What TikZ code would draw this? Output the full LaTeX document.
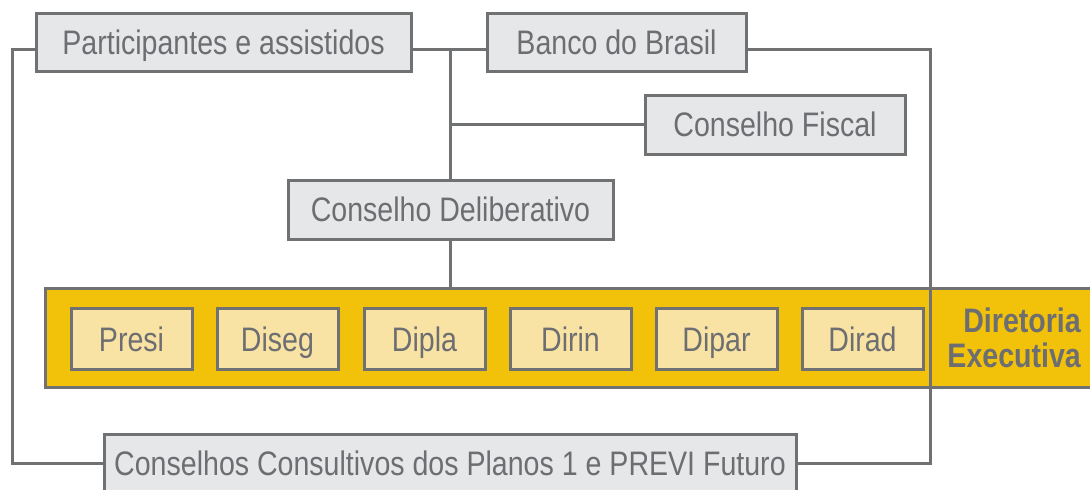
\documentclass[tikz,border=0pt]{standalone}
\usepackage{fontspec}
\setmainfont{Liberation Sans}[FakeStretch=0.84]
\definecolor{txt}{HTML}{6D6E71}
\definecolor{edge}{HTML}{707173}
\definecolor{boxfill}{HTML}{E6E7E8}
\definecolor{band}{HTML}{F2C20A}
\definecolor{inner}{HTML}{F9E3A4}
\tikzset{
  lbl/.style={text=txt, font=\fontsize{34}{36}\selectfont, text height=24pt, text depth=0pt},
  graybox/.style={lbl, draw=edge, fill=boxfill, line width=3pt, minimum height=58pt, inner sep=0pt},
  dirbox/.style={lbl, draw=edge, fill=inner, line width=3pt, minimum width=121pt, minimum height=61pt, inner sep=0pt},
  link/.style={draw=edge, line width=3pt},
}
\begin{document}
\begin{tikzpicture}[x=1pt,y=-1pt]
\clip (0,0) rectangle (1090,490);
\fill[white] (0,0) rectangle (1090,490);
% top boxes
\node[graybox, minimum width=375pt] (part) at (223.5,42) {Participantes e assistidos};
\node[graybox, minimum width=259pt] (banco) at (616.5,42) {Banco do Brasil};
\node[graybox, minimum width=260pt, minimum height=59pt] (fiscal) at (775,124.5) {Conselho Fiscal};
\node[graybox, minimum width=325pt, minimum height=59pt] (delib) at (450.5,209.5) {Conselho Deliberativo};
% band
\node[draw=edge, fill=band, line width=3pt, minimum width=1060pt, minimum height=99pt, inner sep=0pt, anchor=north west] (band) at (44,287) {};
\foreach \n/\t/\x in {presi/Presi/131.5, diseg/Diseg/277.5, dipla/Dipla/424.5, dirin/Dirin/570.5, dipar/Dipar/716.5, dirad/Dirad/862.5}
  \node[dirbox] (\n) at (\x,339) {\t};
\node[anchor=east, align=right, text=txt, font=\fontsize{34}{35}\selectfont\bfseries, inner sep=0pt] (dir) at (1081,338) {Diretoria\\Executiva};
% bottom box
\node[graybox, minimum width=692pt] (cons) at (450,463) {Conselhos Consultivos dos Planos 1 e PREVI Futuro};
% connectors
\coordinate (pe) at ([yshift=-7pt]part.east);
\coordinate (pw) at ([yshift=-7pt]part.west);
\coordinate (be) at ([yshift=-7pt]banco.east);
\coordinate (bw) at ([yshift=-7pt]banco.west);
\coordinate (rt) at (930,49);
\coordinate (lt) at (12,49);
\draw[link] (pe) -- (bw);
\draw[link] (delib.north) -- (delib.north |- pe);
\draw[link] (fiscal.west) -- (fiscal.west -| delib.north);
\draw[link] (delib.south) -- (delib.south |- band.north);
\draw[link] (be) -- (rt) -- (rt |- cons.east) -- (cons.east);
\draw[link] (pw) -- (lt) -- (lt |- cons.west) -- (cons.west);
\end{tikzpicture}
\end{document}
